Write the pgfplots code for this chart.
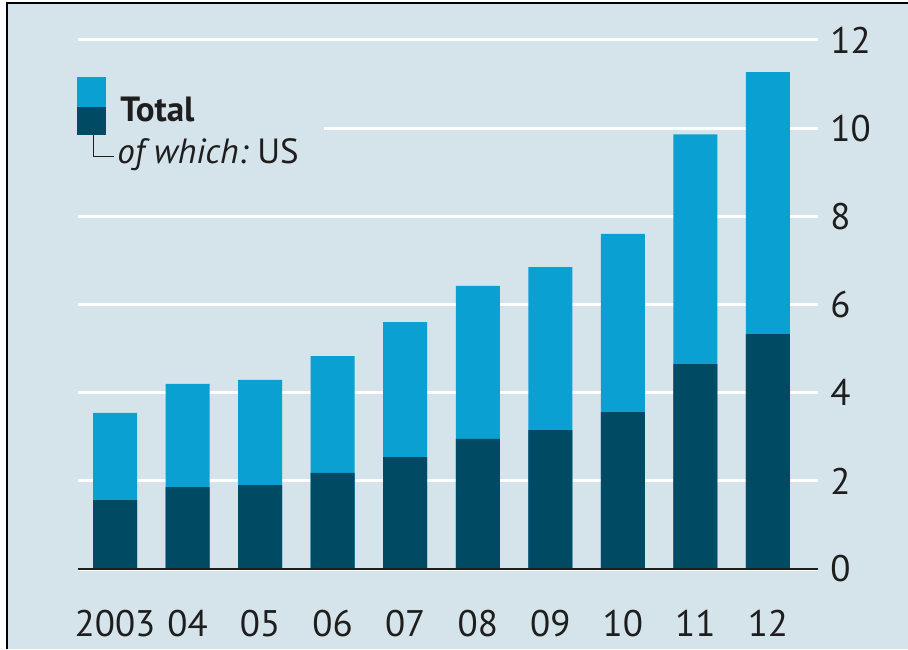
\documentclass[border=0pt]{standalone}
\usepackage{pgfplots}
\pgfplotsset{compat=1.18}
\usepackage{fontspec}
\setmainfont{PT Sans}
\definecolor{bg}{HTML}{D5E3EA}
\definecolor{tot}{HTML}{0AA0D2}
\definecolor{us}{HTML}{004A64}
\definecolor{txt}{HTML}{1E1E1E}
\begin{document}
\begin{tikzpicture}[x=1pt,y=1pt]
\path[use as bounding box] (0,0) rectangle (454,324.5);
\fill[bg] (3.5,0) rectangle (454,323);
\draw[black,line width=1pt] (3.5,0) -- (3.5,323) -- (454.5,323);
\begin{axis}[
  at={(39pt,40pt)}, anchor=south west,
  scale only axis, width=370pt, height=264.5pt,
  xmin=-0.51, xmax=9.69, ymin=0, ymax=12,
  ybar, bar width=22pt, bar shift=0pt,
  axis line style={draw=none}, tick style={draw=none},
  xtick={0,...,9},
  xticklabels={2003,04,05,06,07,08,09,10,11,12},
  ytick={0,2,...,12},
  yticklabel pos=right,
  ymajorgrids, major grid style={white, line width=1.5pt},
  ticklabel style={font=\fontsize{18.5}{22}\selectfont, text=txt},
  xticklabel style={anchor=north, inner sep=0pt, yshift=-16pt},
  yticklabel style={anchor=west, inner sep=0pt, xshift=6pt},
  /pgf/number format/assume math mode=true,
  clip=false,
]
\addplot[fill=tot, draw=none] coordinates {(0,3.54) (1,4.20) (2,4.29) (3,4.83) (4,5.60) (5,6.42) (6,6.85) (7,7.60) (8,9.86) (9,11.27)};
\addplot[fill=us, draw=none] coordinates {(0,1.56) (1,1.86) (2,1.90) (3,2.18) (4,2.54) (5,2.95) (6,3.15) (7,3.56) (8,4.65) (9,5.33)};
\end{axis}
\draw[txt, line width=1pt] (39,40) -- (409,40);
% legend
\fill[bg] (39,256) rectangle (162,265);
\fill[tot] (38.5,271) rectangle (53,286);
\fill[us] (38.5,257) rectangle (53,271);
\draw[txt, line width=0.5pt] (46.5,257) -- (46.5,246) -- (57,246);
\node[anchor=base west, inner sep=0pt, text=txt] at (60,263.5) {\fontsize{17.5}{20}\selectfont\bfseries Total};
\node[anchor=base west, inner sep=0pt, text=txt] at (58.5,243) {\fontsize{17.5}{20}\selectfont\itshape of which:\upshape\ US};
\end{tikzpicture}
\end{document}
